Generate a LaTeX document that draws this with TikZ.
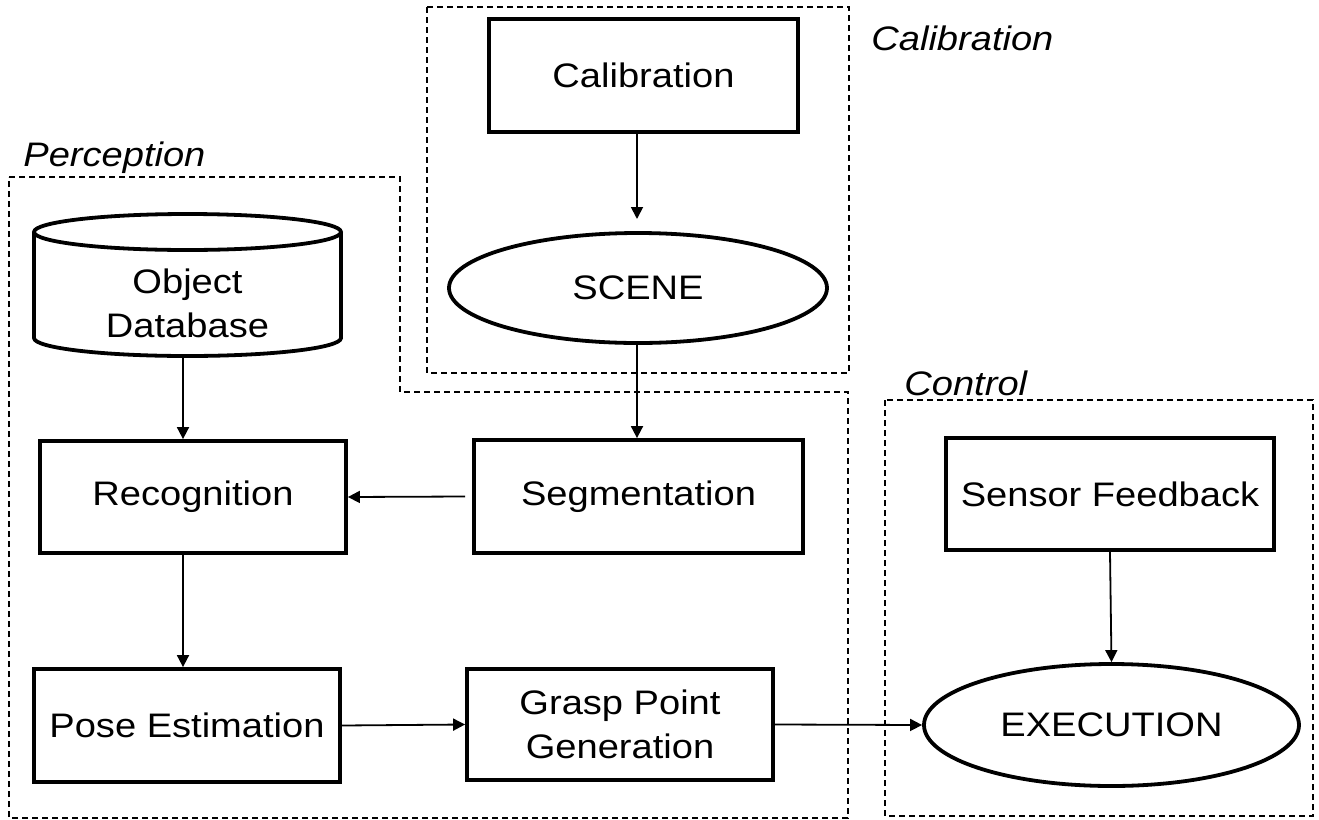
\documentclass[tikz,border=0pt]{standalone}
\usepackage{fontspec}
\setmainfont{Liberation Sans}[FakeStretch=1.12]
\usetikzlibrary{arrows.meta,shapes.geometric}
\begin{document}
\begin{tikzpicture}[x=0.5pt,y=-0.5pt,
  box/.style={draw,line width=1.9pt,inner sep=0pt,align=center,font=\fontsize{17}{22}\selectfont},
  oval/.style={box,ellipse},
  conn/.style={line width=0.9pt,-{Triangle[length=6pt,width=6pt]}},
  region/.style={draw,line width=0.75pt,dash pattern=on 3pt off 2pt},
  tag/.style={font=\fontsize{17}{20}\selectfont\itshape,anchor=west,inner sep=0pt}]
\useasboundingbox (0,0) rectangle (1319,820);
% regions
\draw[region] (9,177) -- (400,177) -- (400,392) -- (848,392) -- (848,818) -- (9,818) -- cycle;
\draw[region] (427,7) rectangle (849,373);
\draw[region] (885,400) rectangle (1313,816);
\node[tag] (tcal) at (871,38) {Calibration};
\node[tag] (tper) at (23,158) {Perception};
\node[tag] (tcon) at (904,383) {Control};
% cylinder
\draw[line width=1.9pt] (187.5,232) ellipse [x radius=76.75pt, y radius=9pt];
\draw[line width=1.9pt] (34,232) -- (34,338) arc[start angle=180,end angle=360,x radius=76.75pt,y radius=9pt] -- (341,232);
% nodes
\node[box,minimum width=154.5pt,minimum height=56.5pt] (cal) at (643.5,75.5) {Calibration};
\node[oval,minimum width=189pt,minimum height=55pt] (scene) at (638,288) {SCENE};
\node[box,draw=none,minimum width=153.5pt,minimum height=53pt] (db) at (187.5,303) {Object\\Database};
\node[box,minimum width=153pt,minimum height=56pt] (rec) at (193,497) {Recognition};
\node[box,minimum width=164.5pt,minimum height=56.5pt] (seg) at (638.5,496.5) {Segmentation};
\node[box,minimum width=164pt,minimum height=56pt] (sensor) at (1110,494) {Sensor Feedback};
\node[box,minimum width=153pt,minimum height=56.5pt] (pose) at (187,725.5) {Pose Estimation};
\node[box,minimum width=153pt,minimum height=55.5pt] (grasp) at (620,724.5) {Grasp Point\\Generation};
\node[oval,minimum width=187.5pt,minimum height=61pt] (exec) at (1111.5,725) {EXECUTION};
% connectors
\coordinate (sceneIn) at (637,219);
\coordinate (colL) at (183,0);
\draw[conn] (cal.south -| sceneIn) -- (sceneIn);
\draw[conn] (scene.south -| sceneIn) -- (seg.north -| sceneIn);
\draw[conn] (db.south -| colL) -- (rec.north -| colL);
\draw[conn] (rec.south -| colL) -- (pose.north -| colL);
\draw[conn] ([xshift=-3.5pt]seg.west) -- (rec.east);
\draw[conn] (pose.east) -- (grasp.west);
\draw[conn] (grasp.east) -- (exec.west);
\draw[conn] (sensor.south) -- (exec.north);
\end{tikzpicture}
\end{document}
